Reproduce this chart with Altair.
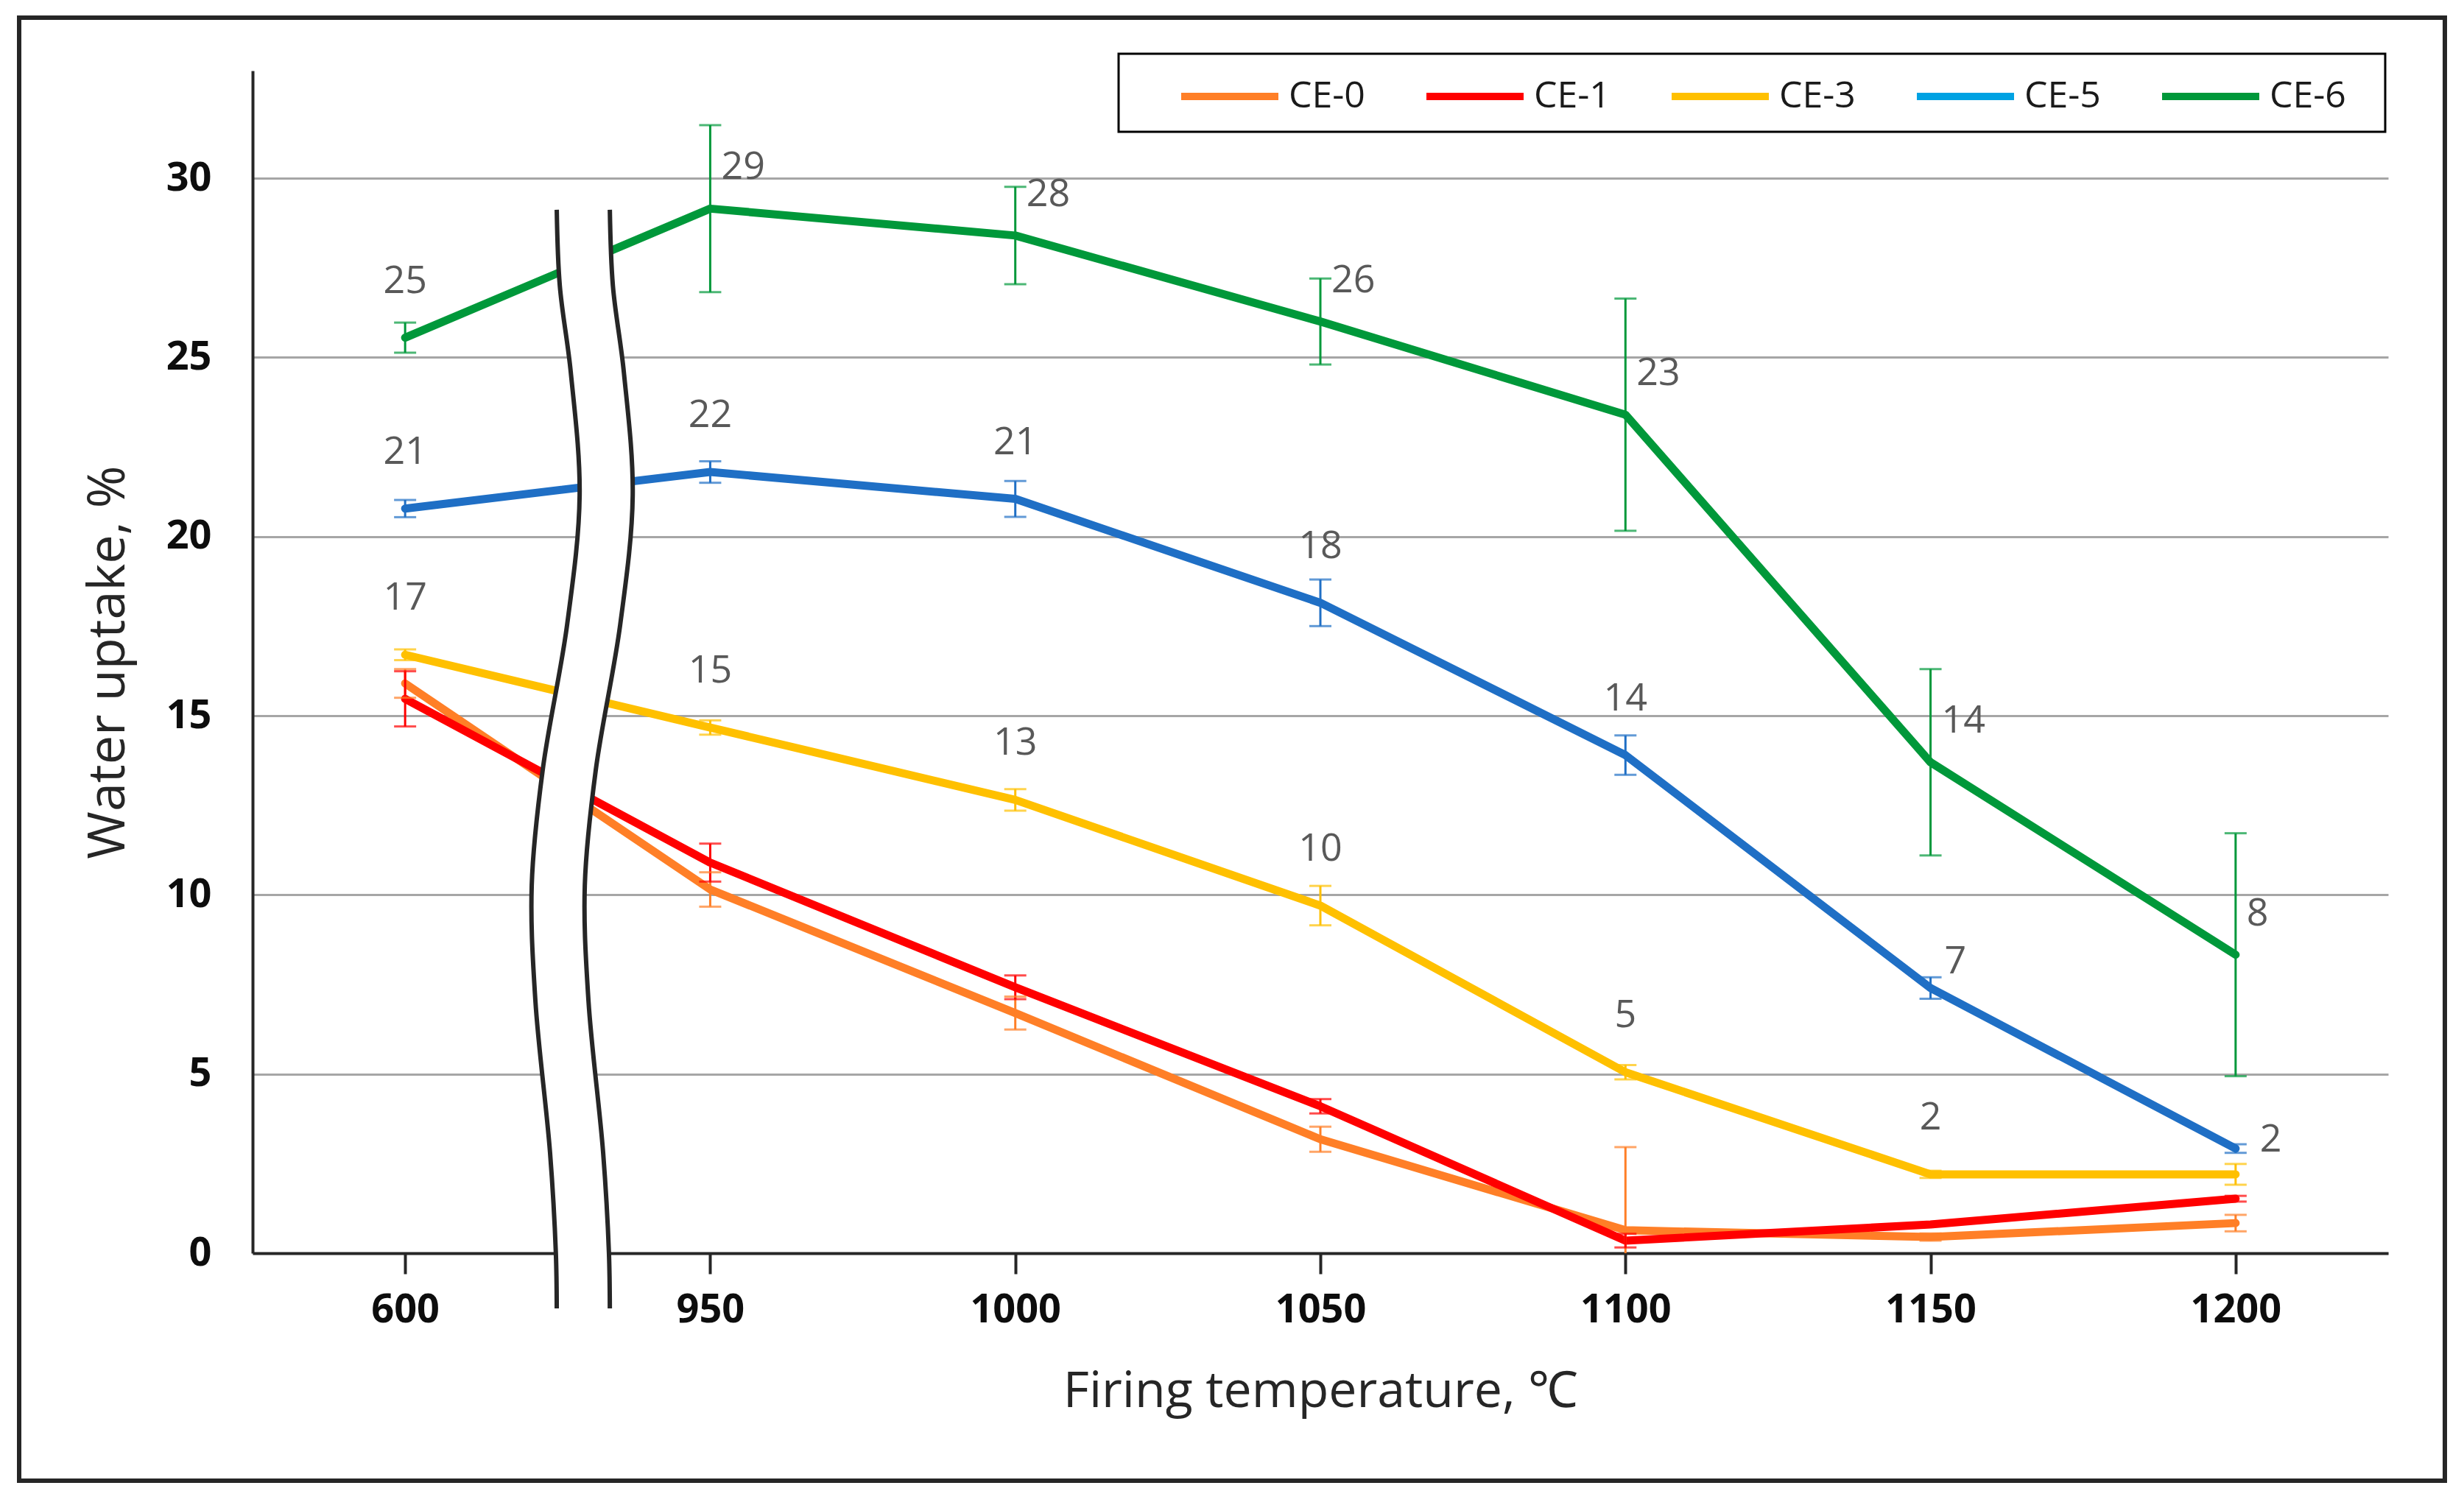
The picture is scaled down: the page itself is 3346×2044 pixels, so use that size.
import altair as alt
import pandas as pd

# ---------------- data ----------------
TEMPS = ["600", "950", "1000", "1050", "1100", "1150", "1200"]
SERIES = ["CE-0", "CE-1", "CE-3", "CE-5", "CE-6"]

CE0_VAL = [15.9, 10.15, 6.7, 3.18, 0.64, 0.45, 0.84]
CE0_ERR = [0.40, 0.48, 0.46, 0.35, 2.32, 0.10, 0.23]
CE1_VAL = [15.47, 10.9, 7.42, 4.1, 0.35, 0.8, 1.52]
CE1_ERR = [0.77, 0.53, 0.33, 0.20, 0.19, 0.04, 0.08]
CE3_VAL = [16.7, 14.67, 12.65, 9.7, 5.05, 2.2, 2.2]
CE3_ERR = [0.15, 0.20, 0.30, 0.55, 0.20, 0.10, 0.29]
CE5_VAL = [20.78, 21.8, 21.05, 18.15, 13.9, 7.4, 2.92]
CE5_ERR = [0.24, 0.30, 0.50, 0.65, 0.55, 0.30, 0.12]
CE6_VAL = [25.55, 29.15, 28.4, 26.0, 23.4, 13.7, 8.33]
CE6_ERR = [0.42, 2.33, 1.36, 1.20, 3.24, 2.60, 3.39]

CE0_LAB = ["", "", "", "", "", "", ""]
CE1_LAB = ["", "", "", "", "", "", ""]
CE3_LAB = ["17", "15", "13", "10", "5", "2", ""]
CE5_LAB = ["21", "22", "21", "18", "14", "7", "2"]
CE6_LAB = ["25", "29", "28", "26", "23", "14", "8"]

CE0_POS = ["", "", "", "", "", "", ""]
CE1_POS = ["", "", "", "", "", "", ""]
CE3_POS = ["above", "above", "above", "above", "above", "above", ""]
CE5_POS = ["above", "above", "above", "above", "above", "upright_low", "right"]
CE6_POS = ["above", "upright", "upright", "upright", "upright", "upright", "upright"]

# axis-break glyph (drawn between 600 and 950), in category units / axis units
BREAK_Y = [29.12, 27.0, 24.58, 21.15, 17.54, 13.49, 10.27, 7.04, 2.81, 0.02, -1.54]
BREAK_X = [0.997, 1.007, 1.043, 1.072, 1.031, 0.951, 0.915, 0.927, 0.975, 0.994, 0.997]
BREAK_GAP = 0.174

LINE_COLORS = ["#FF7F27", "#FF0000", "#FFC000", "#1F6FC5", "#00983A"]
LEGEND_COLORS = ["#FF7F27", "#FF0000", "#FFC000", "#00A2E3", "#00983A"]

# ---------------- tables ----------------
rows = []
for s, vals, errs, labs, poss in zip(
    SERIES,
    [CE0_VAL, CE1_VAL, CE3_VAL, CE5_VAL, CE6_VAL],
    [CE0_ERR, CE1_ERR, CE3_ERR, CE5_ERR, CE6_ERR],
    [CE0_LAB, CE1_LAB, CE3_LAB, CE5_LAB, CE6_LAB],
    [CE0_POS, CE1_POS, CE3_POS, CE5_POS, CE6_POS],
):
    for i, t in enumerate(TEMPS):
        v, e = vals[i], errs[i]
        rows.append({
            "series": s, "temp": t, "value": v,
            "lo": max(v - e, 0.0), "hi": v + e,
            "lo_cap": bool(v - e >= 0),
            "label": labs[i], "pos": poss[i],
        })
df = pd.DataFrame(rows)

bdf = pd.DataFrame({"idx": list(range(len(BREAK_Y))), "value": BREAK_Y, "bx": BREAK_X})
bdf["bx2"] = bdf["bx"] + BREAK_GAP
curves_df = pd.concat([
    bdf.assign(side="L")[["idx", "value", "bx", "side"]],
    bdf.assign(side="R", bx=bdf["bx2"])[["idx", "value", "bx", "side"]],
])

# ---------------- styling ----------------
W, H = 2900, 1606
FONT = "Open Sans"
Y_TITLE = "Water uptake, %"
LW = 11

X_AXIS = alt.Axis(
    title="Firing temperature, ℃", labelAngle=0, grid=False,
    ticks=True, tickSize=28, tickWidth=4, tickColor="#262626",
    domainColor="#262626", domainWidth=4,
    labelFont=FONT, labelFontWeight="bold", labelFontSize=54, labelColor="#0d0d0d",
    labelPadding=22,
    titleFont=FONT, titleFontWeight="normal", titleFontSize=68, titleColor="#262626",
    titleY=208, titleBaseline="alphabetic",
)
Y_AXIS = alt.Axis(
    title=Y_TITLE, values=[0, 5, 10, 15, 20, 25, 30], grid=True,
    gridColor="#a6a6a6", gridWidth=3,
    ticks=False, tickSize=0, domainColor="#262626", domainWidth=4,
    labelFont=FONT, labelFontWeight="bold", labelFontSize=54, labelColor="#0d0d0d",
    labelPadding=56,
    titleFont=FONT, titleFontWeight="normal", titleFontSize=70, titleColor="#262626",
    titleX=-175, titleY=H / 2, titleAngle=270, titleBaseline="alphabetic", titleAlign="center",
)
Y_SCALE = alt.Scale(domain=[0, 33], nice=False, zero=False)


def x_enc():
    return alt.X("temp:N", sort=TEMPS, scale=alt.Scale(type="point", padding=0.5), axis=X_AXIS)


def y_enc(field):
    return alt.Y(f"{field}:Q", scale=Y_SCALE, axis=Y_AXIS, title=Y_TITLE)


def color_enc():
    return alt.Color("series:N", scale=alt.Scale(domain=SERIES, range=LINE_COLORS), legend=None)


base = alt.Chart(df)

frame = alt.Chart(pd.DataFrame({"k": [0]})).mark_rect(
    fillOpacity=0, stroke="#262626", strokeWidth=6
).encode(x=alt.value(-317), x2=alt.value(2977), y=alt.value(-72), y2=alt.value(1915))

legend_box = alt.Chart(pd.DataFrame({"k": [0]})).mark_rect(
    fill="white", stroke="#000000", strokeWidth=3
).encode(x=alt.value(1176), x2=alt.value(2896), y=alt.value(-23), y2=alt.value(83))

# underlay drawn with the legend colours (hidden below the real lines); carries the legend
legend_layer = base.mark_line(strokeWidth=LW - 2).encode(
    x=x_enc(), y=y_enc("value"), detail="series:N",
    color=alt.Color(
        "series:N",
        scale=alt.Scale(domain=SERIES, range=LEGEND_COLORS),
        legend=alt.Legend(
            orient="none", legendX=1256, legendY=-36, direction="horizontal", columns=5,
            title=None, symbolType="stroke", symbolSize=17424, symbolStrokeWidth=10,
            labelFont=FONT, labelFontSize=50, labelColor="#1a1a1a", labelOffset=9,
            columnPadding=63, padding=0, labelLimit=400,
        ),
    ),
)

lines = base.mark_line(strokeWidth=LW, strokeCap="round", strokeJoin="round").encode(
    x=x_enc(), y=y_enc("value"), color=color_enc(), detail="series:N"
)

err_rule = base.mark_rule(strokeWidth=3).encode(
    x=x_enc(), y=y_enc("lo"), y2="hi:Q", color=color_enc()
)
cap_hi = base.mark_tick(size=30, thickness=3).encode(x=x_enc(), y=y_enc("hi"), color=color_enc())
cap_lo = base.transform_filter("datum.lo_cap").mark_tick(size=30, thickness=3).encode(
    x=x_enc(), y=y_enc("lo"), color=color_enc()
)

LABEL_STYLE = {
    "above": (0, -77, "center"),
    "upright": (15, -56, "left"),
    "upright_low": (19, -36, "left"),
    "right": (33, -12, "left"),
}
label_layers = []
for key, (dx, dy, align) in LABEL_STYLE.items():
    label_layers.append(
        base.transform_filter(f"datum.pos == '{key}'").mark_text(
            dx=dx, dy=dy, align=align, baseline="middle",
            font=FONT, fontSize=52, color="#595959",
        ).encode(x=x_enc(), y=y_enc("value"), text="label:N")
    )

data_layers = alt.layer(lines, err_rule, cap_hi, cap_lo)

main = alt.layer(frame, legend_box, legend_layer, data_layers, *label_layers).resolve_scale(
    color="independent"
)

bx_scale = alt.Scale(domain=[0, len(TEMPS)], nice=False, zero=False)
break_area = alt.Chart(bdf).mark_area(
    orient="horizontal", interpolate="catmull-rom", fill="white", opacity=1
).encode(x=alt.X("bx:Q", scale=bx_scale, axis=None), x2="bx2:Q", y=y_enc("value"))
break_curves = alt.Chart(curves_df).mark_line(
    interpolate="catmull-rom", color="#262626", strokeWidth=6
).encode(
    x=alt.X("bx:Q", scale=bx_scale, axis=None), y=y_enc("value"),
    detail="side:N", order="idx:Q",
)
brk = alt.layer(break_area, break_curves)

chart = alt.layer(main, brk).resolve_scale(x="independent").properties(
    width=W, height=H,
    autosize=alt.AutoSizeParams(type="none"),
    padding={"left": 335, "top": 88, "right": 95, "bottom": 320},
    background="white",
).configure_view(stroke=None)

chart.save("out.html", embed_options={"renderer": "svg", "actions": False})
